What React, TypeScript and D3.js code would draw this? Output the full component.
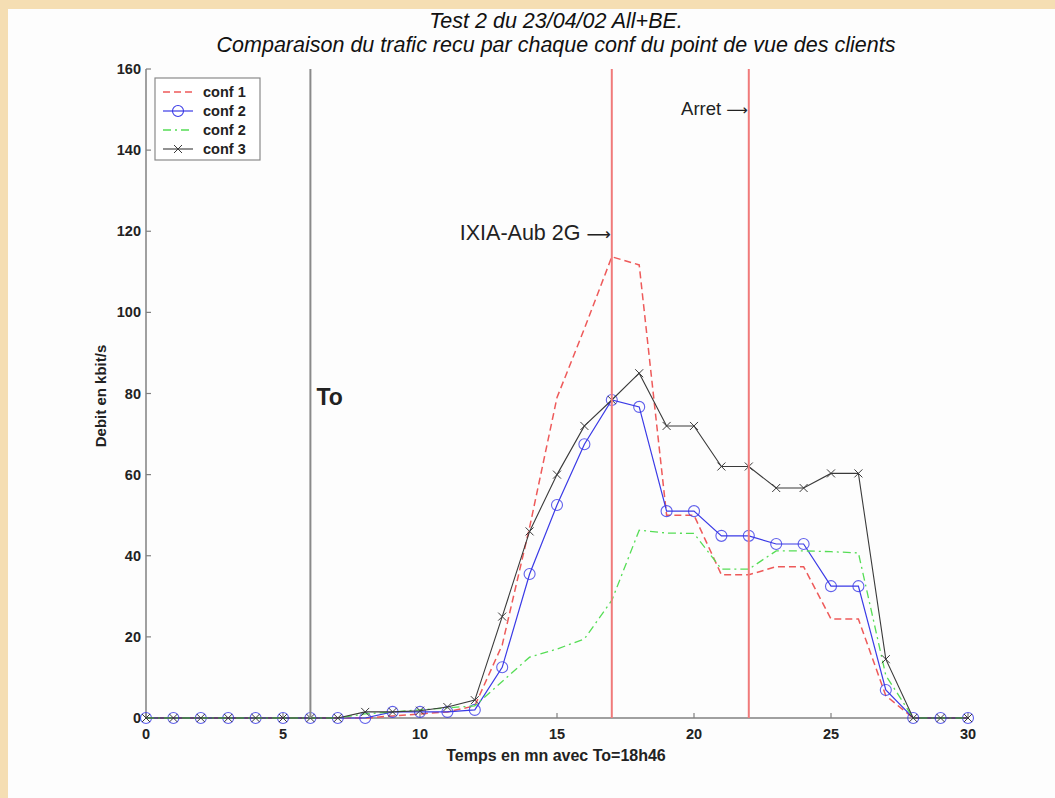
import React from 'react';
import * as d3 from 'd3';

const minutes = [0,1,2,3,4,5,6,7,8,9,10,11,12,13,14,15,16,17,18,19,20,21,22,23,24,25,26,27,28,29,30];
const conf1 = [0,0,0,0,0,0,0,0,0,0.5,1,1.5,3,18,47,79,96,113.7,111.7,50,50,35.3,35.3,37.3,37.3,24.4,24.4,5.5,0,0,0];
const conf2 = [0,0,0,0,0,0,0,0,0,1.5,1.5,1.5,2,12.5,35.5,52.5,67.5,78.4,76.7,51,51,44.9,44.9,42.9,42.9,32.5,32.5,6.9,0,0,0];
const conf2b = [0,0,0,0,0,0,0,0,1,1.5,2,2.5,3,9,15,17,19.5,29,46.3,45.6,45.5,36.7,36.7,41.2,41.2,41,40.7,10.5,0,0,0];
const conf3 = [0,0,0,0,0,0,0,0,1.5,1.5,1.8,2.7,4.4,25,46,60,72,78.4,85,72,72,62,62,56.7,56.7,60.3,60.3,14.5,0,0,0];
const xTicks = [0,5,10,15,20,25,30];
const yTicks = [0,20,40,60,80,100,120,140,160];
const markerLines = [6, 17, 22];
const legendLabels = ['conf 1', 'conf 2', 'conf 2', 'conf 3'];
const titleLines = ['Test 2 du 23/04/02 All+BE.', 'Comparaison du trafic recu par chaque conf du point de vue des clients'];

const W = 1055, H = 798;
const left = 146, right = 968, top = 69, bottom = 718;

export default function App() {
  const x = d3.scaleLinear().domain([0, 30]).range([left, right]);
  const y = d3.scaleLinear().domain([0, 160]).range([bottom, top]);
  const line = (vals: number[]) =>
    d3.line<number>().x((_, i) => x(minutes[i])).y((v) => y(v))(vals) || '';

  const font = "'Liberation Sans', Arial, sans-serif";
  const arrowFont = "'DejaVu Sans', sans-serif";
  const red = '#ee5a5a';
  const blue = '#3a3ae6';
  const green = '#55dd55';
  const black = '#3a3a3a';

  const legendRows = [92, 111, 130, 149];

  const xMark = (cx: number, cy: number, k: string | number) => (
    <path key={k} d={`M${cx - 4},${cy - 4}L${cx + 4},${cy + 4}M${cx - 4},${cy + 4}L${cx + 4},${cy - 4}`} stroke={black} strokeWidth={1} />
  );

  return (
    <svg width={W} height={H} style={{ position: 'absolute', left: 0, top: 0 }} fontFamily={font}>
      <rect x={0} y={0} width={W} height={H} fill="#f5deb3" />
      <rect x={8} y={9} width={W - 8} height={H - 9} fill="#fdfdfd" />

      {/* title */}
      <text x={556} y={28} textAnchor="middle" fontSize={21.5} fontStyle="italic" fill="#111">{titleLines[0]}</text>
      <text x={556} y={52} textAnchor="middle" fontSize={21.5} fontStyle="italic" fill="#111">{titleLines[1]}</text>

      {/* axes */}
      <line x1={left} y1={top} x2={left} y2={bottom} stroke="#808080" strokeWidth={1.5} />
      <line x1={left} y1={bottom} x2={right} y2={bottom} stroke="#808080" strokeWidth={1.5} />
      {yTicks.map((t) => (
        <g key={'y' + t}>
          <line x1={left} x2={left + 5} y1={y(t)} y2={y(t)} stroke="#808080" strokeWidth={1.2} />
          <text x={left - 5} y={y(t) + 5} textAnchor="end" fontSize={14.5} fontWeight="bold" fill="#222">{t}</text>
        </g>
      ))}
      {xTicks.map((t) => (
        <g key={'x' + t}>
          <line x1={x(t)} x2={x(t)} y1={bottom} y2={bottom - 5} stroke="#808080" strokeWidth={1.2} />
          <text x={x(t)} y={739} textAnchor="middle" fontSize={14.5} fontWeight="bold" fill="#222">{t}</text>
        </g>
      ))}
      <text x={556} y={761} textAnchor="middle" fontSize={16} fontWeight="bold" fill="#222">Temps en mn avec To=18h46</text>
      <text transform={`translate(106,396) rotate(-90)`} textAnchor="middle" fontSize={15} fontWeight="bold" fill="#222">Debit en kbit/s</text>

      {/* data */}
      <path d={line(conf1)} fill="none" stroke={red} strokeWidth={1.5} strokeDasharray="7,4" />
      <path d={line(conf2)} fill="none" stroke={blue} strokeWidth={1.2} />
      {conf2.map((v, i) => (
        <circle key={'c' + i} cx={x(minutes[i])} cy={y(v)} r={5.5} fill="none" stroke={blue} strokeWidth={1.1} strokeOpacity={0.8} />
      ))}
      <path d={line(conf2b)} fill="none" stroke={green} strokeWidth={1.3} strokeDasharray="8,4,2,4" />
      <path d={line(conf3)} fill="none" stroke={black} strokeWidth={1.1} />
      {conf3.map((v, i) => xMark(x(minutes[i]), y(v), 'k' + i))}

      {/* vertical markers */}
      <line x1={x(markerLines[0])} x2={x(markerLines[0])} y1={top} y2={bottom} stroke="#8a8a8a" strokeWidth={2} />
      <line x1={x(markerLines[1])} x2={x(markerLines[1])} y1={top} y2={bottom} stroke="#f07a7a" strokeWidth={2} />
      <line x1={x(markerLines[2])} x2={x(markerLines[2])} y1={top} y2={bottom} stroke="#f07a7a" strokeWidth={2} />

      {/* annotations */}
      <text x={x(markerLines[0]) + 6} y={405} fontSize={23} fontWeight="600" fill="#222">To</text>
      <text x={x(markerLines[1]) - 1} y={240} textAnchor="end" fontSize={21.5} fill="#222">IXIA-Aub 2G <tspan fontFamily={arrowFont} fontSize={17}>⟶</tspan></text>
      <text x={x(markerLines[2]) - 1} y={115} textAnchor="end" fontSize={18.5} fill="#222">Arret <tspan fontFamily={arrowFont} fontSize={15}>⟶</tspan></text>

      {/* legend */}
      <rect x={155} y={78} width={105} height={82} fill="#fff" stroke="#8a8a8a" strokeWidth={1.2} />
      <line x1={163} x2={193} y1={legendRows[0]} y2={legendRows[0]} stroke={red} strokeWidth={1.5} strokeDasharray="7,4" />
      <line x1={163} x2={193} y1={legendRows[1]} y2={legendRows[1]} stroke={blue} strokeWidth={1.2} />
      <circle cx={178} cy={legendRows[1]} r={5.5} fill="none" stroke={blue} strokeWidth={1.1} />
      <line x1={163} x2={193} y1={legendRows[2]} y2={legendRows[2]} stroke={green} strokeWidth={1.3} strokeDasharray="8,4,2,4" />
      <line x1={163} x2={193} y1={legendRows[3]} y2={legendRows[3]} stroke={black} strokeWidth={1.1} />
      {xMark(178, legendRows[3], 'lg')}
      {legendLabels.map((l, i) => (
        <text key={'l' + i} x={203} y={legendRows[i] + 5} fontSize={14.5} fontWeight="bold" fill="#222">{l}</text>
      ))}
    </svg>
  );
}
